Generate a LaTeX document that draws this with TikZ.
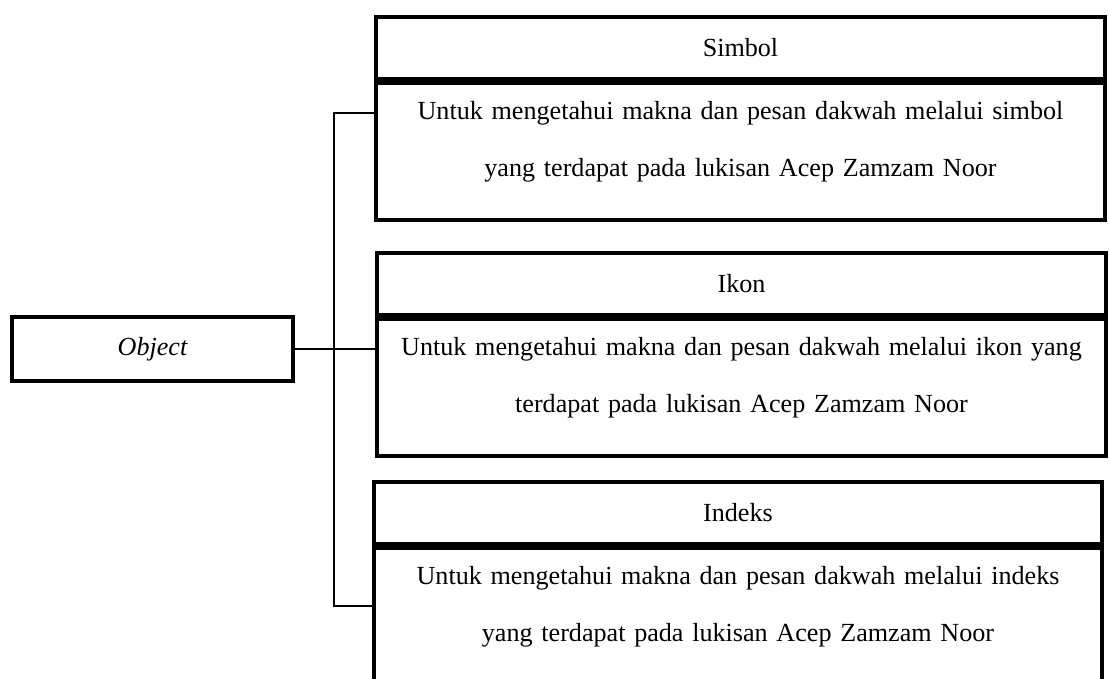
\documentclass[tikz,border=0pt]{standalone}
\usepackage{fontspec}
\setmainfont{Liberation Serif}
\usepackage{tikz}
\usetikzlibrary{positioning}

\tikzset{
	headbox/.style={rectangle,draw,line width=1.8pt,inner xsep=0pt,text width=324pt,minimum height=27.5pt,align=center,font={\fontsize{11.6}{14}\selectfont}},
	bodybox/.style={rectangle,draw,line width=1.8pt,inner xsep=0pt,inner ysep=6pt,text width=324pt,text height=10.4pt,text depth=38.4pt,align=center,font={\fontsize{11.6}{24.9}\selectfont}},
	link/.style={line width=0.6pt}
}

\begin{document}
\begin{tikzpicture}[x=0.444pt,y=-0.444pt]
		%\draw[gray,step=50] (0,0) grid (1109,679);
		\useasboundingbox (0,0) rectangle (1109,679);

		\node[rectangle,draw,line width=1.8pt,minimum width=124.8pt,minimum height=28.4pt,font={\fontsize{11.6}{14}\selectfont\itshape}] (obj) at (152.5,349) {Object};

		\node[headbox,anchor=north] (simbolHead) at (740.5,15) {Simbol};
		\node[bodybox,below=0pt of simbolHead] (simbolBody) {Untuk mengetahui makna dan pesan dakwah melalui simbol\\yang terdapat pada lukisan Acep Zamzam Noor};

		\node[headbox,anchor=north] (ikonHead) at (741.5,251) {Ikon};
		\node[bodybox,below=0pt of ikonHead] (ikonBody) {Untuk mengetahui makna dan pesan dakwah melalui ikon yang\\terdapat pada lukisan Acep Zamzam Noor};

		\node[headbox,anchor=north,text width=323.5pt] (indeksHead) at (738,480) {Indeks};
		\node[bodybox,text width=323.5pt,text depth=80pt,below=0pt of indeksHead] (indeksBody) {Untuk mengetahui makna dan pesan dakwah melalui indeks\\yang terdapat pada lukisan Acep Zamzam Noor};

		\coordinate (spineTop) at (334,113);
		\coordinate (spineBot) at (334,606);

		\draw[link] (obj.east) -- (obj.east -| ikonBody.west);
		\draw[link] (spineTop -| simbolBody.west) -- (spineTop) -- (spineBot) -- (spineBot -| indeksBody.west);

	\end{tikzpicture}
\end{document}
